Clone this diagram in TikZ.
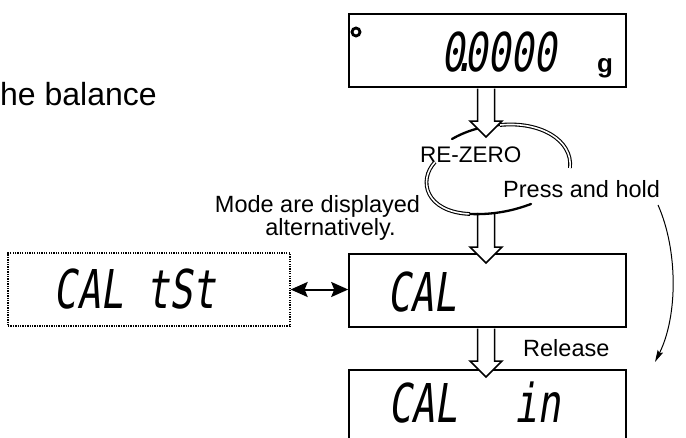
\documentclass[tikz,border=0pt]{standalone}
\usepackage{fontspec}
\setmainfont{Liberation Sans}
\newfontfamily\segfont{DejaVu Sans Mono}[FakeStretch=0.72,FakeSlant=0.15]
\usetikzlibrary{calc, arrows.meta}

% hollow block arrow: #1 = start, #2 = tip
\newcommand\blockarrow[2]{%
  \path (#1 -| #2) coordinate (ba-s);
  \draw[hollowarrow] ($(ba-s)+(-8.5,0.8)$) -- ($(#2)+(-8.5,-16)$) -- ($(#2)+(-16,-16)$) -- (#2)
    -- ($(#2)+(16,-16)$) -- ($(#2)+(8.5,-16)$) -- ($(ba-s)+(8.5,0.8)$);}

\begin{document}
\begin{tikzpicture}[x=1pt, y=-1pt,
  panel/.style={draw, line width=1.6pt, minimum width=277pt, minimum height=73pt, inner sep=0pt},
  dotpanel/.style={panel, line width=1.3pt, dash pattern=on 1.3pt off 1.1pt, minimum width=282pt},
  segtext/.style={font=\segfont\fontsize{53.5}{60}\selectfont, inner sep=0pt},
  note/.style={font=\fontsize{23.5}{21}\selectfont, inner sep=0pt, anchor=base west},
  hollowarrow/.style={draw, fill=white, line width=1.5pt, line join=miter},
  loopthin/.style={line width=2.3pt, line cap=round},
  loopdouble/.style={double, double distance=1.6pt, line width=1.1pt},
  duoarrow/.style={line width=2pt, {Stealth[length=17pt,width=15pt,inset=3pt]}-{Stealth[length=17pt,width=15pt,inset=3pt]}},
  holdarrow/.style={line width=1pt, -{Stealth[length=12pt,width=6pt,inset=2pt]}},
]
  \useasboundingbox (0,0) rectangle (686,437);
  \clip (0,0) rectangle (686,437);
  % display panels
  \node[panel] (topbox) at (487.5,50.5) {};
  \node[panel] (calbox) at (487.5,290.5) {};
  \node[panel] (calinbox) at (487.5,406.5) {};
  \node[dotpanel] (tstbox) at (149,289.5) {};
  % panel contents
  \draw[line width=2.8pt] (356,32) circle (4);
  \node[segtext] (zero) at (499,52.5) {0\kern-11.6pt.\kern-11.6pt0000};
  \node[note, font=\bfseries\fontsize{26}{26}\selectfont] (unit) at (597,72) {g};
  \node[segtext] (cal) at (422,292) {CAL};
  \node[segtext] (caltst) at (135,289) {CAL tSt};
  \node[segtext, anchor=west] (calin) at (388,403) {CAL\kern56.8pt in};
  % texts
  \node[note, font=\fontsize{32}{32}\selectfont] (balance) at (0,105) {he balance};
  \node[note, font=\fontsize{22.5}{22}\selectfont] (rezero) at (420,162) {RE-ZERO};
  \node[note] (press) at (503,197) {Press and hold};
  \node[note, anchor=north, align=center] (mode) at (317.5,195) {Mode are displayed\\\hspace*{26pt}alternatively.};
  \node[note] (release) at (523,356) {Release};
  % loop round RE-ZERO, upper part
  \draw[loopthin] (452,139) .. controls (466,131) and (482,126) .. (500,125);
  \draw[loopdouble] (500,125) .. controls (540,121) and (573,140) .. (570,168);
  % hollow arrows
  \coordinate (tipA) at (486,137);
  \coordinate (gapB) at (486,212);
  \coordinate (tipB) at (486,263);
  \coordinate (tipC) at (486,377);
  \blockarrow{topbox.south}{tipA}
  \blockarrow{gapB}{tipB}
  \blockarrow{calbox.south}{tipC}
  % loop, lower part
  \draw[loopdouble] (435,162) .. controls (418,180) and (425,212) .. (470,214);
  \draw[loopthin] (470,214) .. controls (495,215) and (515,210) .. (531,204);
  % side arrows
  \draw[duoarrow] (tstbox.east) -- (tstbox.east -| calbox.west);
  \coordinate (holdtop) at (658,205);
  \coordinate (holdend) at (655,362);
  \draw[holdarrow] (holdtop) .. controls (678,250) and (678,316) .. (holdend);
\end{tikzpicture}
\end{document}
